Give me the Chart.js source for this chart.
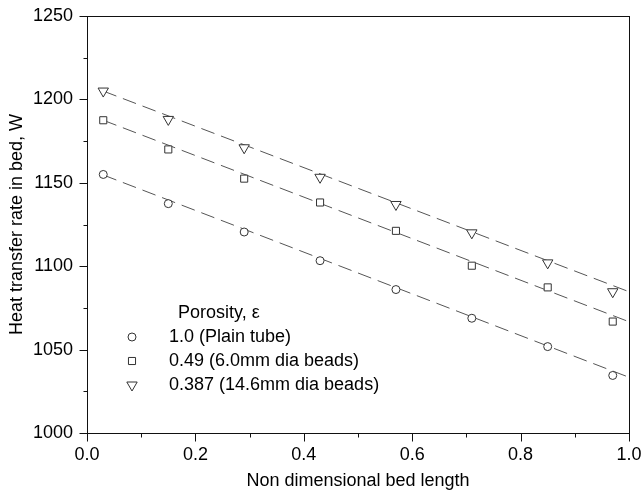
<!DOCTYPE html>
<html>
<head>
<meta charset="utf-8">
<title>Heat transfer rate in bed</title>
<script src="https://cdn.jsdelivr.net/npm/chart.js@4.4.1/dist/chart.umd.min.js"></script>
<style>
  html, body { margin: 0; padding: 0; background: #fff; }
</style>
</head>
<body>
<canvas id="heatChart" width="644" height="495"></canvas>
<script>
const bedLength = [0.03, 0.15, 0.29, 0.43, 0.57, 0.71, 0.85, 0.97];
const plainTube = [1155, 1137.5, 1120.5, 1103.3, 1086, 1068.8, 1051.8, 1034.5];
const beads6mm = [1187.5, 1170, 1152.5, 1138.2, 1121.2, 1100.3, 1087.3, 1066.8];
const beads14mm = [1205, 1188, 1171, 1153.3, 1137, 1120, 1102, 1084.7];

// dashed fit lines, start and end values
const fitLength = [0.03, 1.0];
const fitPlain = [1154.7, 1033.4];
const fit6mm = [1187.5, 1066.7];
const fit14mm = [1205, 1084.7];

const xMajorTicks = [0, 0.2, 0.4, 0.6, 0.8, 1.0];
const yMajorTicks = [1000, 1050, 1100, 1150, 1200, 1250];

const legendTitle = 'Porosity, \u03b5';
const seriesNames = ['1.0 (Plain tube)', '0.49 (6.0mm dia beads)', '0.387 (14.6mm dia beads)'];

const markerColor = '#333';
const fitColor = '#555';
const font = { family: '"Liberation Sans", Arial, sans-serif', size: 18 };

function markerSet(label, values, style, radius, rotation) {
    return {
        label: label,
        data: bedLength.map((x, i) => ({ x: x, y: values[i] })),
        showLine: false,
        pointStyle: style,
        pointRadius: radius,
        pointRotation: rotation,
        pointBorderColor: markerColor,
        pointBackgroundColor: '#fff',
        pointBorderWidth: 1,
        order: 0
    };
}

function fitSet(values) {
    return {
        data: fitLength.map((x, i) => ({ x: x, y: values[i] })),
        borderColor: fitColor,
        borderWidth: 1,
        borderDash: [14, 7],
        pointRadius: 0,
        fill: false,
        order: 1
    };
}

function isMajor(list, v) {
    return list.some(t => Math.abs(t - v) < 1e-6);
}

// hollow marker, same shapes as the data points
function drawMarker(ctx, style, cx, cy, r) {
    ctx.beginPath();
    if (style === 'circle') {
        ctx.arc(cx, cy, r, 0, Math.PI * 2);
    } else if (style === 'rect') {
        const s = r * Math.SQRT1_2;
        ctx.rect(cx - s, cy - s, 2 * s, 2 * s);
    } else {
        // downward triangle
        ctx.moveTo(cx, cy + r);
        ctx.lineTo(cx - r * Math.sin(Math.PI / 3), cy - r / 2);
        ctx.lineTo(cx + r * Math.sin(Math.PI / 3), cy - r / 2);
        ctx.closePath();
    }
    ctx.fillStyle = '#fff';
    ctx.fill();
    ctx.stroke();
}

const frameAndTicks = {
    id: 'frameAndTicks',
    afterDraw(chart) {
        const { ctx, chartArea: a, scales: { x, y } } = chart;
        ctx.save();
        ctx.strokeStyle = '#111';
        ctx.lineWidth = 1;
        const l = Math.round(a.left) + 0.5, r = Math.round(a.right) + 0.5;
        const t = Math.round(a.top) + 0.5, b = Math.round(a.bottom) + 0.5;
        ctx.strokeRect(l, t, r - l, b - t);
        ctx.beginPath();
        x.ticks.forEach(tk => {
            const px = Math.round(x.getPixelForValue(tk.value)) + 0.5;
            ctx.moveTo(px, b);
            ctx.lineTo(px, b + (tk.label ? 8 : 4));
        });
        y.ticks.forEach(tk => {
            const py = Math.round(y.getPixelForValue(tk.value)) + 0.5;
            ctx.moveTo(l, py);
            ctx.lineTo(l - (tk.label ? 8 : 4), py);
        });
        ctx.stroke();
        ctx.restore();
    }
};

const insideLegend = {
    id: 'insideLegend',
    afterDraw(chart) {
        const { ctx, chartArea: a } = chart;
        const markers = chart.data.datasets.filter(d => d.label);
        ctx.save();
        ctx.font = font.size + 'px ' + font.family;
        ctx.fillStyle = '#000';
        ctx.textBaseline = 'middle';
        ctx.fillText(legendTitle, a.left + 91, a.bottom - 120);
        ctx.strokeStyle = markerColor;
        ctx.lineWidth = 1;
        markers.forEach((d, i) => {
            const yy = a.bottom - 96 + i * 24;
            drawMarker(ctx, d.pointStyle, a.left + 45, yy, d.pointRadius);
            ctx.fillStyle = '#000';
            ctx.fillText(seriesNames[i], a.left + 82, yy);
        });
        ctx.restore();
    }
};

new Chart(document.getElementById('heatChart'), {
    type: 'line',
    data: {
        datasets: [
            markerSet(seriesNames[0], plainTube, 'circle', 4, 0),
            markerSet(seriesNames[1], beads6mm, 'rect', 5, 0),
            markerSet(seriesNames[2], beads14mm, 'triangle', 6, 180),
            fitSet(fitPlain),
            fitSet(fit6mm),
            fitSet(fit14mm)
        ]
    },
    options: {
        responsive: false,
        animation: false,
        devicePixelRatio: 1,
        layout: { padding: { top: 16, right: 15, left: 0, bottom: 0 } },
        plugins: {
            legend: { display: false },
            tooltip: { enabled: false }
        },
        scales: {
            x: {
                type: 'linear',
                min: 0,
                max: 1,
                afterFit: s => { s.height = 62; s.paddingLeft = 0; s.paddingRight = 0; },
                grid: { display: false, drawTicks: false },
                border: { display: false },
                ticks: {
                    stepSize: 0.1,
                    autoSkip: false,
                    maxRotation: 0,
                    padding: 11,
                    color: '#000',
                    font: font,
                    callback: v => isMajor(xMajorTicks, v) ? v.toFixed(1) : ''
                },
                title: {
                    display: true,
                    text: 'Non dimensional bed length',
                    color: '#000',
                    font: font,
                    padding: { top: 0, bottom: 3 }
                }
            },
            y: {
                min: 1000,
                max: 1250,
                afterFit: s => { s.width = 87; s.paddingTop = 0; s.paddingBottom = 0; },
                grid: { display: false, drawTicks: false },
                border: { display: false },
                ticks: {
                    stepSize: 25,
                    autoSkip: false,
                    padding: 14,
                    color: '#000',
                    font: font,
                    callback: v => isMajor(yMajorTicks, v) ? String(v) : ''
                },
                title: {
                    display: true,
                    text: 'Heat transfer rate in bed, W',
                    color: '#000',
                    font: font,
                    padding: { top: 6, bottom: 0 }
                }
            }
        }
    },
    plugins: [frameAndTicks, insideLegend]
});
</script>
</body>
</html>
